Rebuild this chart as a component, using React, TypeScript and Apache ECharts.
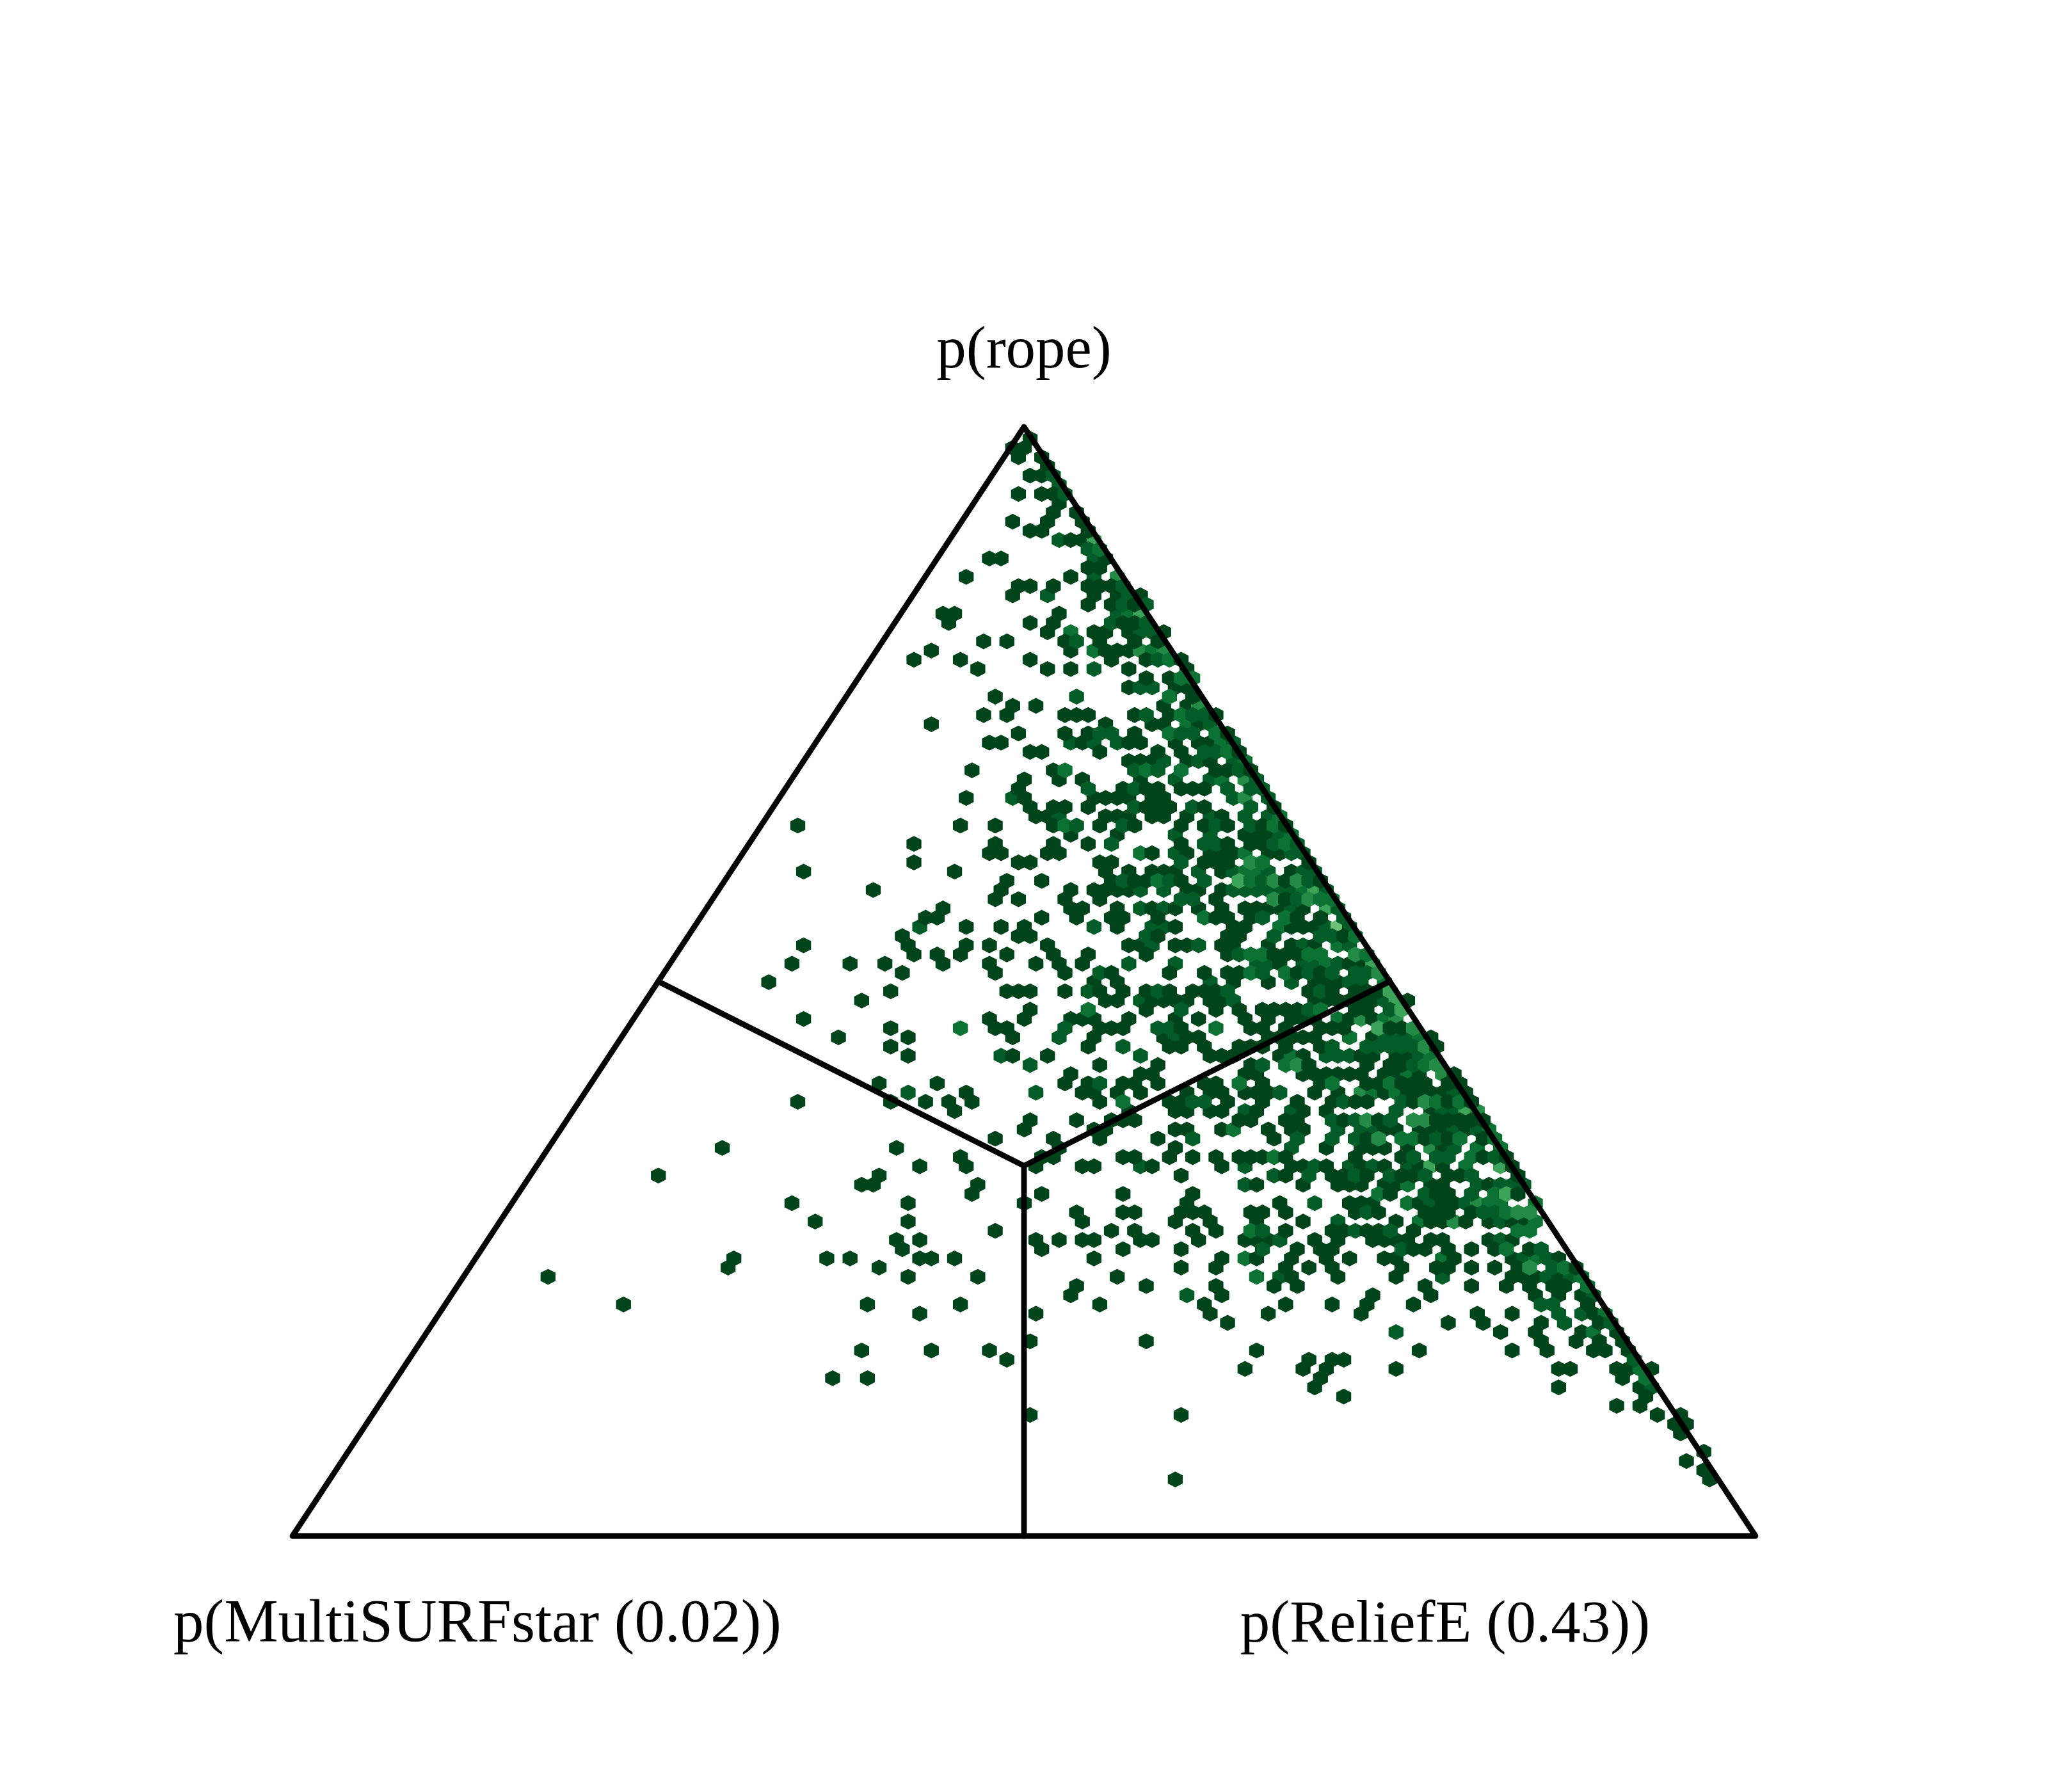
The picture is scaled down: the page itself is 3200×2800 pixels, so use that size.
import React, { useEffect, useRef } from "react";
import * as echarts from "echarts";

// Hexbin cells. Key = lattice row (0 at the base of the triangle),
// values = half-column index along the base. One table per count level.
const levelOne: Record<number, number[]> = {
  119: [127], 118: [124, 126], 117: [125, 129], 116: [130], 115: [127, 129],
  113: [125, 129, 131], 112: [132], 111: [131, 135], 110: [124, 130, 136], 109: [127, 129, 137],
  108: [134, 136], 106: [120, 122, 140], 105: [137, 139], 104: [116, 134],
  103: [125, 127, 131, 137, 139, 141], 102: [124, 138, 142, 146], 101: [137, 141, 145],
  100: [112, 114, 132], 99: [113, 127, 131, 143, 145], 98: [130, 138, 140, 144, 150],
  97: [119, 123, 133, 139, 145, 149], 96: [110, 134, 140, 142, 144], 95: [107, 115, 127, 141, 147, 153],
  94: [118, 130, 134, 144, 154], 93: [147, 151], 92: [144, 152, 154], 91: [121, 155],
  90: [124, 128, 150, 154], 89: [119, 123, 133, 135, 137, 145, 151, 159],
  88: [110, 140, 148, 150, 156], 87: [125, 133, 137, 145, 161],
  86: [120, 122, 136, 144, 146, 152, 156, 158], 85: [127, 129, 139, 149, 153, 163],
  84: [144, 146, 148, 154, 158], 83: [117, 131, 159, 161, 165], 82: [126, 132, 136, 146],
  81: [125, 143, 147, 149, 153, 155, 157], 80: [116, 126, 138, 140, 142, 144, 148, 150],
  79: [127, 131, 133, 137, 147, 149, 151, 157, 169], 78: [128, 130, 140, 142, 144, 148, 150, 154, 160],
  77: [87, 115, 121, 131, 139, 145, 153, 157, 161, 167, 171],
  76: [134, 142, 164, 166, 168], 75: [107, 121, 131, 137, 153, 161, 165, 167],
  74: [120, 122, 130, 132, 148, 154, 158, 160, 162, 168, 170], 73: [107, 125, 127, 139, 141, 157, 159, 161, 175],
  72: [88, 114, 140, 144, 148, 150, 152, 160, 172], 71: [123, 129, 141, 145, 147, 153, 171, 177],
  70: [100, 122, 134, 138, 140, 142, 144, 154, 156, 160], 69: [121, 125, 133, 139, 159, 171],
  68: [112, 134, 136, 142, 148, 152, 156, 160, 164, 166, 168, 170, 174],
  67: [109, 111, 129, 135, 141, 143, 149, 159, 161, 165, 173, 177],
  66: [116, 122, 126, 142, 152, 162, 164, 172, 174, 176], 65: [105, 125, 127, 149, 161, 163, 181],
  64: [88, 106, 116, 120, 130, 144, 146, 152, 154, 160, 162, 168, 172, 176],
  63: [107, 111, 115, 123, 131, 137, 147, 161, 169, 171, 173],
  62: [86, 96, 102, 112, 120, 128, 132, 136, 170, 182, 184], 61: [105, 121, 133, 141, 151, 157, 161, 163, 173, 177],
  60: [82, 138, 142, 162, 168, 176, 178, 180], 59: [103, 123, 125, 127, 133, 139, 143, 147, 151, 155, 157, 159, 175, 179, 183, 185, 187],
  58: [98, 140, 142, 148, 150, 152, 154, 158, 160, 176, 178, 180, 182, 184, 186, 192],
  57: [127, 147, 159, 163, 167, 169, 171, 173, 183, 185],
  56: [88, 120, 126, 134, 136, 138, 144, 152, 156, 164, 168, 172, 174, 176, 182, 186],
  55: [103, 121, 123, 139, 141, 143, 153, 165, 167, 171, 177, 179, 181, 189, 191],
  54: [94, 106, 124, 138, 150, 154, 156, 168, 170, 172, 174, 176, 186, 196],
  53: [103, 137, 151, 153, 157, 163, 165, 167, 171, 177, 197], 52: [106, 124, 130, 158, 160, 162, 170, 174, 184, 186, 190, 192],
  51: [139, 149, 165, 175, 185, 189, 191], 50: [134, 146, 148, 164, 166, 174, 176, 178, 180, 182, 184, 188, 190, 194, 200],
  49: [101, 111, 133, 137, 143, 145, 149, 157, 159, 167, 177, 185, 187, 191, 193, 195, 199, 201],
  48: [116, 136, 138, 142, 146, 154, 158, 160, 164, 166, 168, 176, 180, 188, 192, 194, 196, 198, 202],
  47: [87, 103, 109, 113, 117, 139, 151, 153, 161, 167, 173, 179, 183, 185, 193, 199, 203],
  46: [114, 144, 152, 154, 158, 160, 166, 174, 178, 196],
  45: [127, 135, 141, 143, 145, 163, 165, 171, 173, 181, 187, 197, 199, 201, 203, 205],
  44: [126, 138, 140, 152, 154, 160, 168, 172, 174, 188, 190, 194, 196, 198, 202],
  43: [121, 131, 139, 149, 169, 185, 195, 199, 205], 42: [74, 104, 132, 152, 178, 184, 186, 188, 192, 198],
  41: [115, 129, 131, 143, 145, 151, 155, 159, 163, 165, 167, 171, 183, 191, 205, 209],
  40: [108, 116, 128, 136, 138, 148, 160, 172, 174, 178, 184, 188, 194, 198, 210],
  39: [63, 101, 153, 171, 179, 181, 185, 191, 193, 199, 201, 211],
  38: [98, 100, 118, 166, 174, 180, 182, 184, 188, 190, 196, 198, 206],
  37: [117, 129, 143, 155, 189, 197, 199, 211], 36: [86, 106, 126, 154, 170, 182, 184, 186, 194, 198, 200],
  35: [135, 143, 145, 153, 155, 157, 165, 167, 171, 183, 187, 195, 197, 199, 203],
  34: [90, 106, 136, 152, 158, 166, 174, 190, 196, 198, 202, 206, 210, 212],
  33: [121, 141, 145, 155, 159, 171, 179, 181, 185, 187, 193],
  32: [104, 108, 128, 132, 136, 138, 146, 148, 156, 164, 166, 168, 176, 180, 186, 188, 190, 192, 196, 198, 206, 210],
  31: [105, 129, 143, 153, 173, 177, 179, 193, 195, 199, 203, 207, 213],
  30: [76, 92, 96, 108, 110, 114, 138, 160, 166, 172, 178, 182, 188, 190, 200, 210, 218],
  29: [75, 101, 153, 159, 171, 175, 179, 191, 197, 199, 203, 207, 211, 221],
  28: [44, 106, 118, 142, 172, 180, 190, 210, 212, 214, 218], 27: [135, 147, 159, 169, 173, 195, 203, 209, 213, 217, 219],
  26: [134, 160, 186, 196, 214, 218, 222], 25: [57, 99, 115, 139, 157, 171, 179, 185, 193, 223],
  24: [108, 128, 158, 168, 184, 204, 210, 224], 23: [161, 199, 205, 215, 225], 22: [208, 214, 222, 228],
  21: [127, 147, 215, 221, 225, 229], 20: [98, 110, 120, 166, 194, 210, 216, 224, 226, 230],
  19: [123, 175, 179, 181], 18: [164, 174, 178, 190, 218, 220, 228, 230, 234], 17: [93, 99, 177, 229],
  16: [176, 218, 232], 15: [181, 233], 14: [228, 232], 13: [127, 153, 235, 239], 12: [238, 240],
  11: [239], 9: [243], 8: [240], 7: [243], 6: [152, 244],
};
const levelTwo: Record<number, number[]> = {
  115: [131], 114: [132], 113: [133], 108: [132], 107: [137], 106: [138], 104: [138], 103: [143],
  102: [130, 144], 101: [143, 147], 100: [142], 99: [141, 147], 98: [146, 148], 97: [135], 95: [149],
  94: [138], 92: [146, 148], 91: [135], 89: [147, 155, 157], 88: [158], 87: [139, 141, 153, 155],
  86: [134, 138, 142, 162], 85: [157, 159], 84: [150, 156, 162], 83: [145, 149, 163], 82: [152, 158, 166],
  81: [137, 145, 161, 165, 167], 80: [124, 162, 168], 79: [145, 155, 165], 78: [132, 158, 164, 168],
  77: [135, 143, 159, 165], 76: [152, 158, 170], 75: [141, 157, 159, 169, 173], 74: [152, 172, 174],
  73: [153], 72: [156, 162, 168, 174, 176], 71: [143, 151, 157, 167, 175], 70: [146, 150, 162, 164, 166, 168, 170, 172, 178],
  69: [153, 155, 173], 68: [146, 150, 172, 180], 67: [167, 181], 66: [108, 138, 148, 150, 178, 182],
  65: [147, 169, 177, 179], 64: [148, 156, 174, 182], 63: [163], 62: [144, 152, 166, 168, 174, 176, 180],
  61: [139, 167, 175, 179, 183, 185], 60: [158, 172, 182, 184], 59: [137, 149, 161, 177], 58: [146, 162, 188],
  57: [153, 175, 189], 55: [133, 149, 151], 54: [132, 152, 188, 190, 192], 53: [143, 179, 185, 187, 189, 191, 193],
  52: [122, 146, 178, 180, 182, 194], 51: [127, 167, 193], 49: [139], 48: [106, 128, 170, 200],
  47: [155, 157, 181, 191], 46: [164, 172, 190, 198, 200], 45: [179, 183, 189], 44: [180, 184, 186, 200, 204],
  43: [155, 173, 179, 183, 197], 42: [172, 200], 41: [193, 197, 199, 207],
  40: [146, 164, 176, 182, 186, 192], 39: [169, 175, 183, 189, 195, 203], 38: [164, 204, 208, 210, 212],
  37: [195, 203], 36: [176, 196, 202], 35: [185, 205, 207], 34: [180, 208], 33: [167, 183, 189],
  32: [170, 208], 31: [167, 191, 209, 215], 30: [212, 216], 29: [217], 28: [170, 198, 216, 220],
  26: [154, 224], 25: [215, 217], 24: [218, 222], 23: [219, 227], 22: [190], 19: [231], 16: [234],
};
const levelThree: Record<number, number[]> = {
  107: [139], 100: [144], 98: [134], 96: [138, 148], 95: [151], 93: [153, 155], 91: [151], 89: [153],
  88: [154], 87: [151, 159], 86: [160], 85: [161], 84: [164], 83: [133, 147, 153], 82: [160], 78: [170],
  77: [133, 169], 76: [172], 75: [171], 74: [146, 164], 73: [167], 72: [164, 166], 71: [149, 165],
  70: [174], 69: [177, 179], 67: [157, 171], 66: [170], 65: [183], 64: [180], 63: [165, 167, 175, 177, 185],
  62: [178], 61: [165, 171], 60: [188], 57: [177, 137], 56: [180, 188], 55: [115, 159], 54: [182, 194],
  52: [172, 196], 51: [171, 195], 50: [192], 49: [163, 179, 189], 48: [186, 190], 47: [143, 197, 201],
  44: [162, 206], 43: [191, 193, 201, 207], 42: [204, 208], 41: [169, 203], 40: [202], 38: [192], 37: [187, 207],
  36: [192, 206, 208, 214], 35: [209], 34: [194, 214], 33: [165, 211, 213], 31: [209], 30: [164, 198, 214],
  29: [219], 28: [166, 222], 27: [223], 24: [226], 22: [224], 18: [232], 17: [233],
};
const levelFour: Record<number, number[]> = {
  104: [142], 96: [146, 150], 90: [156], 82: [164], 80: [164], 73: [165], 71: [169, 173], 69: [169, 175],
  63: [183], 61: [187], 56: [184, 190], 55: [193], 51: [173, 197], 50: [198], 48: [184], 46: [204],
  45: [185, 193, 195], 43: [187], 42: [196], 36: [204], 35: [211, 213], 34: [200], 29: [213],
  53: [195], 47: [195],
};
const levelFive: Record<number, number[]> = {
  108: [138], 100: [146], 71: [163], 70: [176], 68: [178], 62: [186], 59: [189], 58: [190], 57: [191], 55: [187],
  46: [202], 40: [196, 208], 37: [209],
};
const levelSix: Record<number, number[]> = { 66: [180] };
const haloCells: Record<number, number[]> = { 120: [126] };

const levelColors = ["#00441b", "#025c28", "#0b7234", "#238b45", "#3ba458", "#6dc073", "#f7fcf5"];
const levelTables = [levelOne, levelTwo, levelThree, levelFour, levelFive, levelSix, haloCells];
const axisLabels = ["p(rope)", "p(MultiSURFstar (0.02))", "p(ReliefE (0.43))"];

const U_MAX = 251.9;
const R_MIN = -0.14;
const R_MAX = 120.29;
const CENTER_R = 40.05;

function buildCells(): [number, number, number][] {
  const seen = new Map<string, [number, number, number]>();
  levelTables.forEach((table, level) => {
    Object.keys(table).forEach((rowKey) => {
      const row = Number(rowKey);
      table[row].forEach((u) => seen.set(row + "_" + u, [u, row, level]));
    });
  });
  const cells = Array.from(seen.values());
  cells.sort((a, b) => (a[2] === 6 ? -1 : b[2] === 6 ? 1 : (a[1] % 2) - (b[1] % 2) || a[1] - b[1] || a[0] - b[0]));
  return cells;
}

function frameSeries(points: number[][]) {
  return {
    type: "line",
    data: points,
    symbol: "none",
    silent: true,
    clip: false,
    z: 5,
    lineStyle: { color: "#000000", width: 8.8, cap: "round", join: "round" },
  };
}

export default function App() {
  const ref = useRef<HTMLDivElement>(null);
  useEffect(() => {
    if (!ref.current) return;
    const chart = echarts.init(ref.current, undefined, { renderer: "svg" });
    const mid = U_MAX / 2;
    const midR = (R_MIN + R_MAX) / 2;
    const textStyle = { fill: "#000000", font: '93px "Liberation Serif", serif', textAlign: "center", textVerticalAlign: "middle" };
    chart.setOption({
      animation: false,
      backgroundColor: "#ffffff",
      grid: { left: 457, top: 667, width: 2286, height: 1733, containLabel: false },
      xAxis: { type: "value", min: 0, max: U_MAX, show: false },
      yAxis: { type: "value", min: R_MIN, max: R_MAX, show: false },
      series: [
        {
          type: "custom",
          silent: true,
          clip: false,
          z: 2,
          data: buildCells(),
          renderItem: (_p: any, api: any) => {
            const c = api.coord([api.value(0), api.value(1)]);
            const step = api.size([2, 1]);
            const hw = step[0] / 2 + 2.6;
            const rad = (step[1] * 2) / 3 + 2.8;
            const mid2 = rad * 0.52;
            const color = levelColors[api.value(2)];
            return {
              type: "polygon",
              shape: {
                points: [
                  [c[0], c[1] - rad],
                  [c[0] + hw, c[1] - mid2],
                  [c[0] + hw, c[1] + mid2],
                  [c[0], c[1] + rad],
                  [c[0] - hw, c[1] + mid2],
                  [c[0] - hw, c[1] - mid2],
                ],
              },
              style: { fill: color, stroke: null },
            };
          },
        },
        frameSeries([[0, R_MIN], [U_MAX, R_MIN], [mid, R_MAX], [0, R_MIN]]),
        frameSeries([[mid, R_MIN], [mid, CENTER_R]]),
        frameSeries([[mid / 2, midR], [mid, CENTER_R]]),
        frameSeries([[(mid + U_MAX) / 2, midR], [mid, CENTER_R]]),
      ],
      graphic: [
        { type: "text", x: 1600, y: 542, style: { ...textStyle, text: axisLabels[0] } },
        { type: "text", x: 746, y: 2533, style: { ...textStyle, font: '95px "Liberation Serif", serif', text: axisLabels[1] } },
        { type: "text", x: 2258, y: 2533, style: { ...textStyle, text: axisLabels[2] } },
      ],
    });
    return () => chart.dispose();
  }, []);
  return <div ref={ref} style={{ position: "absolute", left: 0, top: 0, width: 3200, height: 2800 }} />;
}
